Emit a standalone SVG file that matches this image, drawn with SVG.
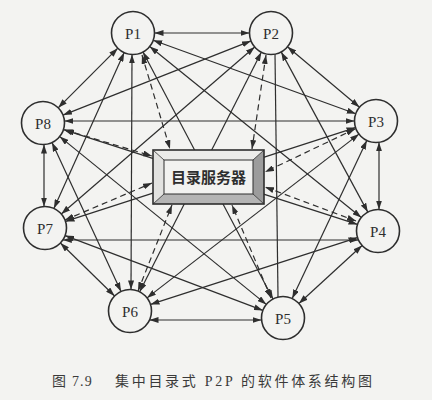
<svg xmlns="http://www.w3.org/2000/svg" width="432" height="400" viewBox="0 0 432 400">
<style>
.bg{fill:#f3f3f1}
.e{stroke:#2e2e2e;stroke-width:1.2;fill:none;marker-start:url(#ah);marker-end:url(#ah)}
.p{stroke:#2e2e2e;stroke-width:1.2;fill:none}
.d{stroke:#2e2e2e;stroke-width:1.2;fill:none;stroke-dasharray:6 4;marker-start:url(#ah);marker-end:url(#ah)}
.n circle{fill:#f3f3f1;stroke:#2e2e2e;stroke-width:1.6}
.n text{font-family:"Liberation Serif",serif;font-size:15px;fill:#2e2e2e;text-anchor:middle}
.cap{font-family:"Liberation Serif","Noto Sans CJK SC",serif;font-size:14px;fill:#3a3a3a}
</style>
<defs>
<marker id="ah" markerUnits="userSpaceOnUse" markerWidth="9" markerHeight="6" refX="9" refY="3" orient="auto-start-reverse">
<path d="M0,0 L9,3 L0,6 z" fill="#2e2e2e"/>
</marker>
</defs>
<rect class="bg" x="0" y="0" width="432" height="400"/>
<g id="connectors">
<line class="e" x1="154.5" y1="33" x2="249.5" y2="33"/>
<line class="e" x1="153.2" y1="40.3" x2="355.8" y2="113.7"/>
<line class="e" x1="149.7" y1="46.5" x2="361.3" y2="217.5"/>
<line class="e" x1="143" y1="52" x2="273" y2="299"/>
<line class="e" x1="132" y1="54.5" x2="131" y2="289.5"/>
<line class="e" x1="124.2" y1="52.6" x2="53.9" y2="208.4"/>
<line class="e" x1="117.8" y1="48.2" x2="58.2" y2="107.8"/>
<line class="e" x1="287.5" y1="46.8" x2="359.5" y2="107.2"/>
<line class="e" x1="281.2" y1="51.9" x2="367.8" y2="212.1"/>
<line class="p" x1="275" y1="54.1" x2="278" y2="297.1"/>
<line class="e" x1="261.3" y1="52.2" x2="139.7" y2="291.8"/>
<line class="e" x1="254.7" y1="47" x2="61.3" y2="214"/>
<line class="e" x1="251" y1="40.9" x2="63" y2="115.1"/>
<line class="e" x1="379" y1="142.3" x2="379" y2="209.5"/>
<line class="e" x1="366.8" y1="140.5" x2="292.2" y2="298.5"/>
<line class="e" x1="359" y1="134.1" x2="147" y2="297.9"/>
<line class="e" x1="355.5" y1="127.6" x2="65.5" y2="221.4"/>
<line class="e" x1="354.5" y1="121" x2="64.4" y2="121"/>
<line class="e" x1="362.1" y1="245.5" x2="298.9" y2="303.5"/>
<line class="e" x1="357.5" y1="237.6" x2="150.5" y2="304.4"/>
<line class="e" x1="358.5" y1="240" x2="62.8" y2="240"/>
<line class="e" x1="357.5" y1="224.4" x2="63.5" y2="129.6"/>
<line class="e" x1="261.6" y1="320" x2="149.5" y2="320"/>
<line class="e" x1="262.9" y1="310.4" x2="65.1" y2="235.6"/>
<line class="e" x1="266.3" y1="304.4" x2="59.7" y2="136.6"/>
<line class="e" x1="114.6" y1="296" x2="60.4" y2="243"/>
<line class="e" x1="121" y1="291.5" x2="52" y2="142.5"/>
<line class="e" x1="44" y1="206.5" x2="44" y2="144.5"/>
<line class="d" x1="142" y1="55" x2="170" y2="149"/>
<line class="d" x1="266" y1="55" x2="252" y2="149"/>
<line class="d" x1="65" y1="130" x2="152" y2="156"/>
<line class="d" x1="65" y1="220" x2="152" y2="183"/>
<line class="d" x1="355" y1="129" x2="265" y2="172"/>
<line class="d" x1="356" y1="221" x2="265" y2="187"/>
<line class="d" x1="138" y1="291" x2="172" y2="205"/>
<line class="d" x1="271" y1="298" x2="232" y2="205"/>
</g>
<g id="server">
<rect x="153" y="150" width="111" height="54" fill="#f0f0ee"/>
<polygon points="153,150 264,150 253,160 164,160" fill="#ececea"/>
<polygon points="153,150 164,160 164,194 153,204" fill="#e2e2e0"/>
<polygon points="264,150 264,204 253,194 253,160" fill="#9c9c9c"/>
<polygon points="153,204 164,194 253,194 264,204" fill="#b4b4b4"/>
<rect x="164" y="160" width="89" height="34" fill="#f2f2f0" stroke="#2e2e2e" stroke-width="1"/>
<line x1="153" y1="150" x2="164" y2="160" stroke="#2e2e2e" stroke-width="0.8"/>
<line x1="264" y1="150" x2="253" y2="160" stroke="#2e2e2e" stroke-width="0.8"/>
<line x1="153" y1="204" x2="164" y2="194" stroke="#2e2e2e" stroke-width="0.8"/>
<line x1="264" y1="204" x2="253" y2="194" stroke="#2e2e2e" stroke-width="0.8"/>
<rect x="153" y="150" width="111" height="54" fill="none" stroke="#2e2e2e" stroke-width="1.6"/>
<text x="208.5" y="183" font-family="'Noto Sans CJK SC',sans-serif" font-size="15" font-weight="bold" fill="#2e2e2e" text-anchor="middle">目录服务器</text>
</g>
<g id="P1" class="n"><circle cx="133" cy="33" r="21.5"/><text x="133" y="38.5">P1</text></g>
<g id="P2" class="n"><circle cx="271" cy="33" r="21.5"/><text x="271" y="38.5">P2</text></g>
<g id="P3" class="n"><circle cx="376" cy="121" r="21.5"/><text x="376" y="126.5">P3</text></g>
<g id="P4" class="n"><circle cx="378" cy="231" r="21.5"/><text x="378" y="236.5">P4</text></g>
<g id="P5" class="n"><circle cx="283" cy="318" r="21.5"/><text x="283" y="323.5">P5</text></g>
<g id="P6" class="n"><circle cx="130" cy="311" r="21.5"/><text x="130" y="316.5">P6</text></g>
<g id="P7" class="n"><circle cx="45" cy="228" r="21.5"/><text x="45" y="233.5">P7</text></g>
<g id="P8" class="n"><circle cx="43" cy="123" r="21.5"/><text x="43" y="128.5">P8</text></g>
<text class="cap" x="52" y="386" letter-spacing="1.2">图 7.9</text>
<text class="cap" x="115" y="386" letter-spacing="2.7">集中目录式 P2P 的软件体系结构图</text>
</svg>
